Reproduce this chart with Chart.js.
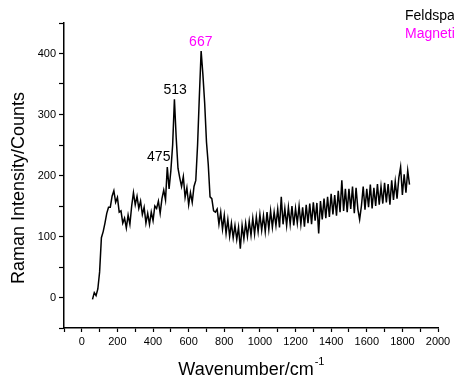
<!DOCTYPE html>
<html lang="en">
<head>
    <meta charset="UTF-8">
    <title>Raman Spectrum</title>
    <script src="https://cdn.jsdelivr.net/npm/chart.js"></script>
    <style>
        html, body { margin: 0; padding: 0; background: #fff; }
        .chart-container { width: 454px; height: 381px; position: relative; }
    </style>
</head>
<body>
    <div class="chart-container">
        <canvas id="ramanChart"></canvas>
    </div>

    <script>
        // wavenumber (cm-1) and counts
        const wavenumbers = [
            60, 70, 80, 90, 100, 110, 120, 130, 140, 150,
            160, 170, 180, 190, 200, 210, 220, 230, 240, 250,
            260, 270, 280, 290, 300, 310, 320, 330, 340, 350,
            360, 370, 380, 390, 400, 410, 420, 430, 440, 450,
            460, 470, 480, 490, 500, 510, 520, 530, 540, 550,
            560, 570, 580, 590, 600, 610, 620, 630, 640, 650,
            660, 670, 680, 690, 700, 710, 720, 730, 740, 750,
            760, 770, 780, 790, 800, 810, 820, 830, 840, 850,
            860, 870, 880, 890, 900, 910, 920, 930, 940, 950,
            960, 970, 980, 990, 1000, 1010, 1020, 1030, 1040, 1050,
            1060, 1070, 1080, 1090, 1100, 1110, 1120, 1130, 1140, 1150,
            1160, 1170, 1180, 1190, 1200, 1210, 1220, 1230, 1240, 1250,
            1260, 1270, 1280, 1290, 1300, 1310, 1320, 1330, 1340, 1350,
            1360, 1370, 1380, 1390, 1400, 1410, 1420, 1430, 1440, 1450,
            1460, 1470, 1480, 1490, 1500, 1510, 1520, 1530, 1540, 1550,
            1560, 1570, 1580, 1590, 1600, 1610, 1620, 1630, 1640, 1650,
            1660, 1670, 1680, 1690, 1700, 1710, 1720, 1730, 1740, 1750,
            1760, 1770, 1780, 1790, 1800, 1810, 1820, 1830, 1840
        ];
        const counts = [
            -3, 8, 3, 14, 42, 98, 108, 122, 138, 148,
            148, 166, 175, 156, 164, 140, 142, 122, 130, 114,
            135, 120, 150, 172, 152, 166, 146, 158, 136, 148,
            122, 138, 120, 140, 126, 150, 146, 158, 138, 162,
            176, 160, 214, 178, 208, 250, 325, 262, 212, 196,
            182, 198, 164, 180, 152, 172, 156, 182, 192, 250,
            330, 404, 365, 318, 255, 218, 165, 162, 142, 140,
            145, 120, 140, 112, 135, 105, 128, 100, 122, 98,
            118, 95, 115, 80, 118, 96, 122, 100, 125, 102,
            130, 104, 132, 108, 136, 110, 134, 108, 140, 112,
            142, 115, 140, 118, 145, 115, 165, 120, 146, 118,
            148, 120, 150, 118, 146, 122, 150, 120, 148, 116,
            152, 122, 154, 120, 156, 126, 155, 105, 158, 128,
            162, 130, 165, 132, 170, 136, 168, 134, 175, 140,
            192, 142, 178, 140, 178, 145, 182, 138, 180, 145,
            128, 150, 182, 144, 178, 148, 185, 146, 180, 150,
            186, 152, 182, 154, 188, 156, 186, 152, 192, 160,
            190, 162, 196, 214, 168, 202, 172, 208, 185
        ];
        const peakNames = ['475', '513', '667'];
        const peakColors = ['#000000', '#000000', '#ff00ff'];
        const legendNames = ['Feldspar', 'Magnetite'];
        const legendColors = ['#000000', '#ff00ff'];

        const FONT = "'Liberation Sans', Arial, sans-serif";

        // text overlay: axis titles, peak labels, legend
        const textPlugin = {
            id: 'textOverlay',
            afterDraw(chart) {
                const c = chart.ctx;
                const xs = chart.scales.x, ys = chart.scales.y;
                c.save();
                c.fillStyle = '#000';
                c.textBaseline = 'middle';

                // y title
                c.save();
                c.translate(19, 188);
                c.rotate(-Math.PI / 2);
                c.textAlign = 'center';
                c.font = '18px ' + FONT;
                c.fillText('Raman Intensity/Counts', 0, 0);
                c.restore();

                // x title with superscript
                c.font = '18px ' + FONT;
                c.textAlign = 'left';
                const main = 'Wavenumber/cm';
                const w = c.measureText(main).width;
                const x0 = 250 - (w + 8) / 2;
                c.fillText(main, x0, 370);
                c.font = '11px ' + FONT;
                c.fillText('-1', x0 + w + 1, 362);

                // peak labels, anchored in data coordinates
                const anchors = [[432, 230], [524, 340], [668, 418]];
                c.font = '14px ' + FONT;
                c.textAlign = 'center';
                peakNames.forEach((t, i) => {
                    c.fillStyle = peakColors[i];
                    c.fillText(t, xs.getPixelForValue(anchors[i][0]), ys.getPixelForValue(anchors[i][1]));
                });

                // legend (clipped by the canvas edge as in the original)
                c.textAlign = 'left';
                legendNames.forEach((t, i) => {
                    c.fillStyle = legendColors[i];
                    c.fillText(t, 405, 16 + i * 18);
                });
                c.restore();
            }
        };

        const ctx = document.getElementById('ramanChart').getContext('2d');
        new Chart(ctx, {
            type: 'line',
            data: {
                datasets: [{
                    label: 'Spectrum',
                    data: wavenumbers.map((x, i) => ({ x: x, y: counts[i] })),
                    borderColor: '#000',
                    borderWidth: 1.5,
                    pointRadius: 0,
                    tension: 0,
                    fill: false
                }]
            },
            options: {
                responsive: true,
                maintainAspectRatio: false,
                animation: false,
                layout: { padding: { top: 23, right: 16, left: 0, bottom: 0 } },
                plugins: {
                    legend: { display: false },
                    tooltip: { enabled: false }
                },
                scales: {
                    x: {
                        type: 'linear',
                        min: -100,
                        max: 2000,
                        border: { color: '#000', width: 1.5 },
                        grid: { drawOnChartArea: false, drawTicks: true, tickLength: 4, color: '#000', tickWidth: 1.2 },
                        ticks: {
                            stepSize: 100,
                            autoSkip: false,
                            maxRotation: 0,
                            padding: 3,
                            color: '#000',
                            font: { family: FONT, size: 11 },
                            callback: v => (v % 200 === 0 ? v : '')
                        },
                        afterFit(scale) { scale.height = 53; }
                    },
                    y: {
                        min: -50,
                        max: 450,
                        border: { color: '#000', width: 1.5 },
                        grid: { drawOnChartArea: false, drawTicks: true, tickLength: 5, color: '#000', tickWidth: 1.2 },
                        ticks: {
                            stepSize: 50,
                            autoSkip: false,
                            padding: 3,
                            color: '#000',
                            font: { family: FONT, size: 11 },
                            callback: v => (v % 100 === 0 ? v : '')
                        },
                        afterFit(scale) { scale.width = 64; }
                    }
                }
            },
            plugins: [textPlugin]
        });
    </script>
</body>
</html>
